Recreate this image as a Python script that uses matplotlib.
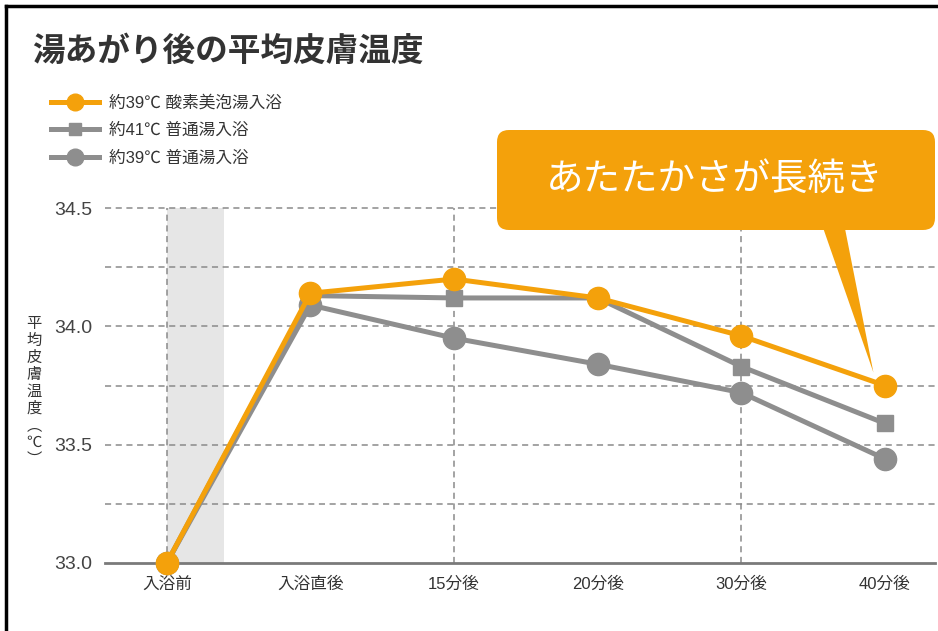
import matplotlib.pyplot as plt
from matplotlib.patches import FancyBboxPatch, Polygon, Rectangle
from matplotlib.lines import Line2D

plt.rcParams['font.family'] = ['Liberation Sans', 'Noto Sans CJK JP', 'DejaVu Sans']

categories = ["入浴前", "入浴直後", "15分後", "20分後", "30分後", "40分後"]
oxygen_39 = [33.0, 34.14, 34.20, 34.12, 33.96, 33.75]
plain_41 = [33.0, 34.13, 34.12, 34.12, 33.83, 33.59]
plain_39 = [33.0, 34.09, 33.95, 33.84, 33.72, 33.44]
series_labels = ["約39℃ 酸素美泡湯入浴", "約41℃ 普通湯入浴", "約39℃ 普通湯入浴"]
y_ticks = [33.0, 33.5, 34.0, 34.5]
callout_text = "あたたかさが長続き"

orange = "#F4A10B"
gray = "#8E8E8E"
cjk = ['Noto Sans CJK JP', 'DejaVu Sans']

fig = plt.figure(figsize=(9.38, 6.31), dpi=100)
ax = fig.add_axes([0.112, 0.1078, 0.885, 0.5625])

x = list(range(len(categories)))
ax.set_xlim(-0.43, 5.35)
ax.set_ylim(33.0, 34.5)

# shaded "before bath" band
ax.add_patch(Rectangle((0, 33.0), 0.4, 1.5, facecolor="#E6E6E6", edgecolor="none", zorder=0))

# dashed grid
for yv in [33.25, 33.5, 33.75, 34.0, 34.25, 34.5]:
    ax.axhline(yv, color="#8A8A8A", lw=1.1, ls=(0, (4, 3)), zorder=1, clip_on=False)
for xv in [0, 2, 4]:
    ax.plot([xv, xv], [33.0, 34.5], color="#8A8A8A", lw=1.1, ls=(0, (4, 3)), zorder=1)

ax.plot(x, plain_39, color=gray, lw=3.6, marker="o", ms=16, zorder=3, clip_on=False,
        label=series_labels[2])
ax.plot(x, plain_41, color=gray, lw=3.6, marker="s", ms=12, zorder=4, clip_on=False,
        label=series_labels[1])
ax.plot(x, oxygen_39, color=orange, lw=3.6, marker="o", ms=16, zorder=5, clip_on=False,
        label=series_labels[0])

for s in ["top", "right", "left"]:
    ax.spines[s].set_visible(False)
ax.spines["bottom"].set_color("#7A7A7A")
ax.spines["bottom"].set_linewidth(2)
ax.spines["bottom"].set_zorder(2)

ax.set_xticks(x)
ax.set_xticklabels(categories, fontsize=12, color="#333333")
ax.set_yticks(y_ticks)
ax.set_yticklabels([f"{v:.1f}" for v in y_ticks], fontsize=14, color="#444444")
ax.tick_params(axis="x", length=0, pad=10)
ax.tick_params(axis="y", length=0, pad=9)

# vertical y label
fig.text(0.036, 0.38, "平\n均\n皮\n膚\n温\n度\n︵\n℃\n︶", fontsize=11, color="#333333",
         ha="center", va="center", linespacing=1.0, family=cjk)

# title
fig.text(0.034, 0.918, "湯あがり後の平均皮膚温度", fontsize=23.5, fontweight="bold",
         color="#333333", ha="left", va="center", family=cjk)

# legend
h, l = ax.get_legend_handles_labels()
leg = ax.legend(h[::-1], l[::-1], loc="upper left", bbox_to_anchor=(0.054, 0.85),
                bbox_transform=fig.transFigure, frameon=False, fontsize=12,
                handlelength=2.9, handletextpad=0.6, labelspacing=0.75,
                markerscale=0.75, borderpad=0, borderaxespad=0)
for t in leg.get_texts():
    t.set_color("#333333")

# callout box
box = FancyBboxPatch((4.97, 4.01), 4.38, 1.00, boxstyle="round,pad=0,rounding_size=0.12",
                     transform=fig.dpi_scale_trans, facecolor=orange, edgecolor="none",
                     zorder=6)
fig.patches.append(box)
tail = Polygon([(4.55, 34.45), (4.71, 34.45), (4.92, oxygen_39[-1] + 0.055)],
               closed=True, facecolor=orange, edgecolor="none", zorder=6, clip_on=False)
ax.add_patch(tail)
fig.text(0.762, 0.715, callout_text, fontsize=27, color="white", ha="center", va="center",
         zorder=7, family=cjk)

# frame lines at top and left
fig.add_artist(Line2D([0.0065, 1], [0.99, 0.99], color="black", lw=2.5))
fig.add_artist(Line2D([0.0065, 0.0065], [0, 0.99], color="black", lw=2.5))

fig.savefig("out.png", dpi=100)
